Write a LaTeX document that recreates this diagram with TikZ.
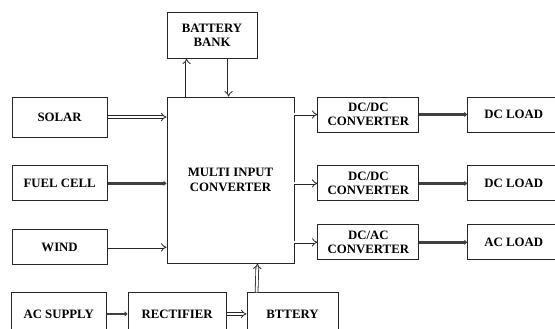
\documentclass[tikz,border=0pt]{standalone}
\usepackage{fontspec}
\setmainfont{Liberation Serif}
\usetikzlibrary{arrows.meta,positioning}

\begin{document}
\begin{tikzpicture}[x=1pt, y=1pt,
  bx/.style={draw=black!85, line width=0.9pt, align=center, inner sep=0pt,
             minimum width=95pt, minimum height=35pt,
             font=\fontsize{12.8}{14.5}\selectfont\bfseries},
  cv/.style={bx, minimum width=101pt},
  ld/.style={bx, minimum width=92pt},
  dar/.style={double=white, draw=black!85, line width=0.8pt, double distance=2pt,
              -{Implies}},
  tar/.style={draw=black!75, line width=2.4pt,
              -{Triangle[length=3pt,width=5pt]}}]
\useasboundingbox (0,0) rectangle (555,-329);
\node[bx, minimum width=127pt, minimum height=166pt] (mic) at (230.5,-180)
  {MULTI INPUT\\CONVERTER};
\node[bx, minimum height=40pt, below left=0pt and 59pt of mic.north west] (solar) {SOLAR};
\node[bx, below=28pt of solar] (fuel) {FUEL CELL};
\node[bx, below=28pt of fuel] (wind) {WIND};
\node[bx, minimum width=90pt, minimum height=46pt,
      above right=38pt and 0pt of mic.north west] (bank) {BATTERY\\BANK};
\node[cv, below right=0pt and 23pt of mic.north east] (dcdca) {DC/DC\\CONVERTER};
\node[cv, below=33pt of dcdca] (dcdcb) {DC/DC\\CONVERTER};
\node[cv, below=23pt of dcdcb] (dcac) {DC/AC\\CONVERTER};
\node[ld, right=48pt of dcdca] (loada) {DC LOAD};
\node[ld, right=48pt of dcdcb] (loadb) {DC LOAD};
\node[ld, right=48pt of dcac] (loadc) {AC LOAD};
\node[bx, minimum width=91pt, minimum height=42pt,
      below right=29pt and 80pt of mic.south west] (batt) {BTTERY};
\node[bx, minimum width=98pt, minimum height=42pt, left=20pt of batt] (rect) {RECTIFIER};
\node[bx, minimum height=42pt, left=21pt of rect] (acs) {AC SUPPLY};
\draw[dar] (solar) -- (solar -| mic.west);
\draw[tar] (fuel) -- (fuel -| mic.west);
\draw[dar] (wind) -- (wind -| mic.west);
\draw[dar] ([xshift=20pt]mic.north west) -- ([xshift=20pt]bank.south west);
\draw[dar] ([xshift=62pt]bank.south west) -- ([xshift=62pt]mic.north west);
\draw[dar] (mic.east |- dcdca) -- (dcdca);
\draw[dar] (mic.east |- dcdcb) -- (dcdcb);
\draw[dar] (mic.east |- dcac) -- (dcac);
\draw[tar] (dcdca) -- (loada);
\draw[tar] (dcdcb) -- (loadb);
\draw[tar] (dcac) -- (loadc);
\draw[tar] (acs) -- (rect);
\draw[dar] (rect) -- (batt);
\draw[dar] ([xshift=10pt]batt.north west) -- ([xshift=-37pt]mic.south east);
\end{tikzpicture}
\end{document}
